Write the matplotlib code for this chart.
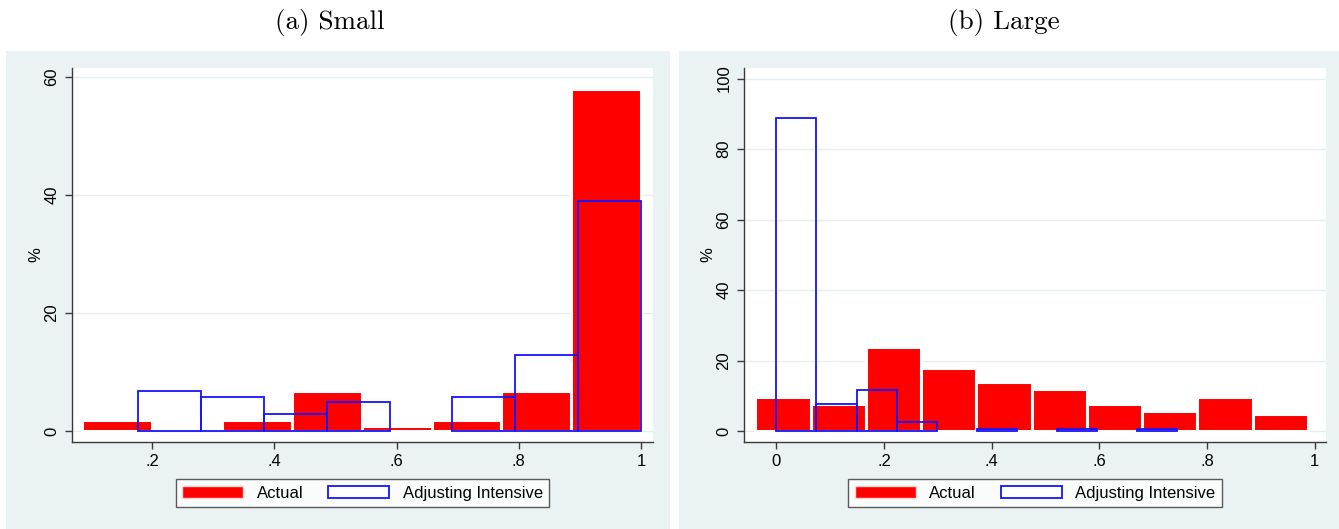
import numpy as np
import matplotlib
matplotlib.use('Agg')
import matplotlib.pyplot as plt
from matplotlib.patches import Patch, Rectangle

# (a) Small : bin start, bin width and bar heights (%)
small_actual_start = 0.0857
small_actual_width = 0.1143
small_actual = [1.85, 0.0, 1.85, 6.85, 0.8, 1.85, 6.85, 58.0]
small_adj_start = 0.177
small_adj_width = 0.1029
small_adj = [6.8, 5.8, 2.8, 4.9, 0.0, 5.8, 12.8, 38.9]
small_xticks = [0.2, 0.4, 0.6, 0.8, 1.0]
small_xlabels = ['.2', '.4', '.6', '.8', '1']
small_yticks = [0, 20, 40, 60]

# (b) Large
large_actual_start = -0.039
large_actual_width = 0.1026
large_actual = [9.8, 7.7, 23.9, 17.8, 13.8, 11.8, 7.8, 5.8, 9.8, 4.8]
large_adj_start = 0.0
large_adj_width = 0.0745
large_adj = [88.8, 7.7, 11.6, 2.7, 0.0, 0.6, 0.0, 0.6, 0.0, 0.6]
large_xticks = [0, 0.2, 0.4, 0.6, 0.8, 1.0]
large_xlabels = ['0', '.2', '.4', '.6', '.8', '1']
large_yticks = [0, 20, 40, 60, 80, 100]

titles = ['(a) Small', '(b) Large']
legend_labels = ['Actual', 'Adjusting Intensive']

BG = '#EAF2F3'
RED = '#ff0000'
BLUE = '#1414ff'
AXC = '#3a3a3a'
W, H = 1339, 529

plt.rcParams['font.family'] = ['Liberation Sans', 'DejaVu Sans']
fig = plt.figure(figsize=(W / 100, H / 100), dpi=100)
fig.patch.set_facecolor('white')


def px_rect(x0, y0, x1, y1):
    # pixel box (top-left origin) -> figure fraction
    return [x0 / W, 1 - y1 / H, (x1 - x0) / W, (y1 - y0) / H]


def draw_panel(panel, axbox, title, title_x, a_start, a_w, a_vals, b_start, b_w, b_vals,
               xticks, xlabels, yticks, xlim, ylim):
    r = px_rect(*panel)
    fig.patches.append(Rectangle((r[0], r[1]), r[2], r[3], transform=fig.transFigure,
                                 facecolor=BG, edgecolor='none', zorder=-10))
    ax = fig.add_axes(px_rect(*axbox))
    ax.set_facecolor('white')

    a_vals = np.array(a_vals)
    a_left = a_start + a_w * np.arange(len(a_vals))
    m = a_vals > 0
    ax.bar(a_left[m], a_vals[m], width=a_w, align='edge', color=RED,
           edgecolor='white', linewidth=2.2, zorder=3)
    b_vals = np.array(b_vals)
    b_left = b_start + b_w * np.arange(len(b_vals))
    m = b_vals > 0
    ax.bar(b_left[m], b_vals[m], width=b_w, align='edge', facecolor='none',
           edgecolor=BLUE, linewidth=1.3, zorder=4)

    ax.set_xlim(*xlim)
    ax.set_ylim(*ylim)
    ax.set_xticks(xticks)
    ax.set_xticklabels(xlabels)
    ax.set_yticks(yticks)
    ax.grid(axis='y', color='#e6eef1', linewidth=1.0, zorder=0)
    for s in ['top', 'right']:
        ax.spines[s].set_visible(False)
    for s in ['left', 'bottom']:
        ax.spines[s].set_color(AXC)
        ax.spines[s].set_linewidth(1.0)
    ax.tick_params(colors=AXC, labelcolor='black', length=5, width=1.0, labelsize=12)
    ax.tick_params(axis='x', pad=4)
    ax.tick_params(axis='y', pad=4, labelrotation=90)
    plt.setp(ax.get_yticklabels(), va='center')
    ax.set_ylabel('%', fontsize=12, labelpad=1)

    handles = [Patch(facecolor=RED, edgecolor='#ffd6d6', linewidth=1.0),
               Patch(facecolor='white', edgecolor=BLUE, linewidth=1.3)]
    leg = ax.legend(handles, legend_labels, loc='upper center', bbox_to_anchor=(0.5, -0.099),
                    ncol=2, fontsize=12, frameon=True, fancybox=False, borderaxespad=0,
                    handlelength=3.66, handleheight=0.78, handletextpad=0.8,
                    columnspacing=1.5, borderpad=0.4)
    leg.get_frame().set_edgecolor('#333333')
    leg.get_frame().set_linewidth(1.0)

    fig.text(title_x / W, 1 - 22 / H, title, family='cmr10', fontsize=19.5,
             ha='center', va='center')
    return ax


draw_panel((6, 51, 670, 529), (72, 68, 653, 442), titles[0], 330,
           small_actual_start, small_actual_width, small_actual,
           small_adj_start, small_adj_width, small_adj,
           small_xticks, small_xlabels, small_yticks, (0.069, 1.0196), (-1.86, 61.5))
draw_panel((679, 51, 1339, 529), (744, 68, 1326, 442), titles[1], 1004,
           large_actual_start, large_actual_width, large_actual,
           large_adj_start, large_adj_width, large_adj,
           large_xticks, large_xlabels, large_yticks, (-0.06, 1.0209), (-3.1, 103))

fig.savefig('out.png', dpi=100)
